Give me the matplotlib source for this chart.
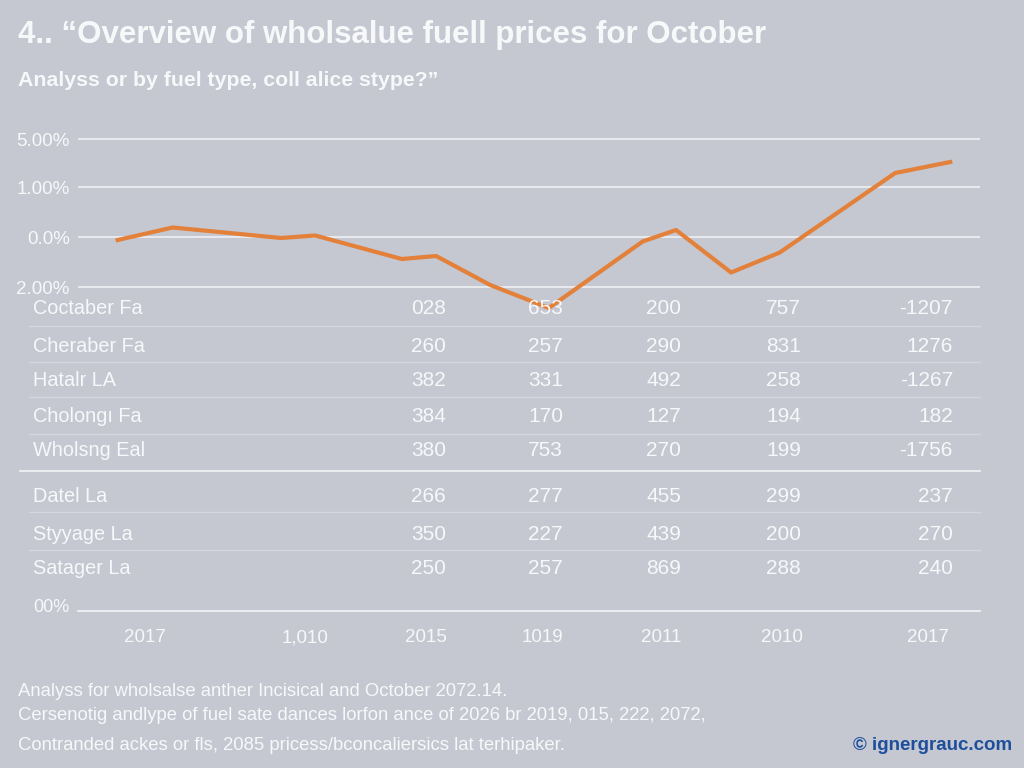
import matplotlib.pyplot as plt

plt.rcParams['font.family'] = ['Liberation Sans', 'DejaVu Sans']

# chart data
line_x = [4.4, 10.5, 22.5, 26.3, 35.9, 39.7, 45.7, 52.2, 62.6, 66.3, 72.4, 77.8, 90.6, 96.7]
line_y = [-0.06, 0.19, -0.02, 0.03, -0.44, -0.38, -0.96, -1.42, -0.09, 0.14, -0.71, -0.31, 1.28, 1.50]
y_ticks = [1.96, 1.0, 0.0, -1.0]
y_tick_labels = ['5.00%', '1.00%', '0.0%', '2.00%']

row_labels = ['Coctaber Fa', 'Cheraber Fa', 'Hatalr LA', 'Cholongı Fa', 'Wholsng Eal',
              'Datel La', 'Styyage La', 'Satager La']
row_values = [
    ['028', '653', '200', '757', '-1207'],
    ['260', '257', '290', '831', '1276'],
    ['382', '331', '492', '258', '-1267'],
    ['384', '170', '127', '194', '182'],
    ['380', '753', '270', '199', '-1756'],
    ['266', '277', '455', '299', '237'],
    ['350', '227', '439', '200', '270'],
    ['250', '257', '869', '288', '240'],
]
bottom_labels = ['2017', '1,010', '2015', '1019', '2011', '2010', '2017']

title = '4.. \u201cOverview of wholsalue fuell prices for October'
subtitle = 'Analyss or by fuel type, coll alice stype?\u201d'
notes = ['Analyss for wholsalse anther Incisical and October 2072.14.',
         'Cersenotig andlype of fuel sate dances lorfon ance of 2026 br 2019, 015, 222, 2072,',
         'Contranded ackes or fls, 2085 pricess/bconcaliersics lat terhipaker.']
credit = '\u00a9 ignergrauc.com'

bg = '#c5c8d1'
white = '#f7f8fa'
orange = '#e3803a'

W, H = 1024, 768
fig = plt.figure(figsize=(10.24, 7.68), dpi=100, facecolor=bg)

# line chart panel
ax = fig.add_axes([78 / W, 1 - 320 / H, 902 / W, 190 / H])
ax.set_facecolor('none')
ax.set_xlim(0, 100)
ax.set_ylim(-1.66, 2.14)
for v in y_ticks:
    ax.axhline(v, color='#eef0f4', lw=1.2, zorder=1)
ax.plot(line_x, line_y, color=orange, lw=3, solid_joinstyle='round', zorder=3)
ax.set_yticks(y_ticks)
ax.set_yticklabels(y_tick_labels, color=white, fontsize=13.5)
ax.tick_params(axis='y', length=0, pad=6)
ax.set_xticks([])
for s in ax.spines.values():
    s.set_visible(False)

# overlay in pixel coordinates for table and texts
ov = fig.add_axes([0, 0, 1, 1], zorder=5)
ov.set_xlim(0, W)
ov.set_ylim(H, 0)
ov.axis('off')
ov.patch.set_alpha(0)

ov.text(18, 35, title, color=white, fontsize=22.5, fontweight='bold', va='center')
ov.text(18, 81, subtitle, color=white, fontsize=15.3, fontweight='bold', va='center')

row_y = [309, 346, 380, 417, 451, 497, 534, 569]
col_x = [446, 563, 681, 801, 953]
for label, vals, yy in zip(row_labels, row_values, row_y):
    ov.text(33, yy, label, color=white, fontsize=14.3, va='center')
    for cx, v in zip(col_x, vals):
        ov.text(cx, yy, v, color=white, fontsize=15, va='center', ha='right')

for yy in [326, 362, 397, 434, 512, 550]:
    ov.plot([29, 980], [yy, yy], color='#d3d6de', lw=1)
ov.plot([20, 980], [471, 471], color='#eef0f4', lw=1.3)

ov.text(33, 607, '00%', color=white, fontsize=13, va='center')
ov.plot([78, 980], [611, 611], color='#eef0f4', lw=1.3)
for bx, lab in zip([145, 305, 426, 542, 661, 782, 928], bottom_labels):
    ov.text(bx, 638, lab, color=white, fontsize=13.5, va='center', ha='center')

for yy, line in zip([692, 716, 745], notes):
    ov.text(18, yy, line, color=white, fontsize=13.3, va='center')
ov.text(1012, 746, credit, color='#1d4f9c', fontsize=13.5, fontweight='bold',
        va='center', ha='right')

fig.savefig('out.png', dpi=100, facecolor=bg)
